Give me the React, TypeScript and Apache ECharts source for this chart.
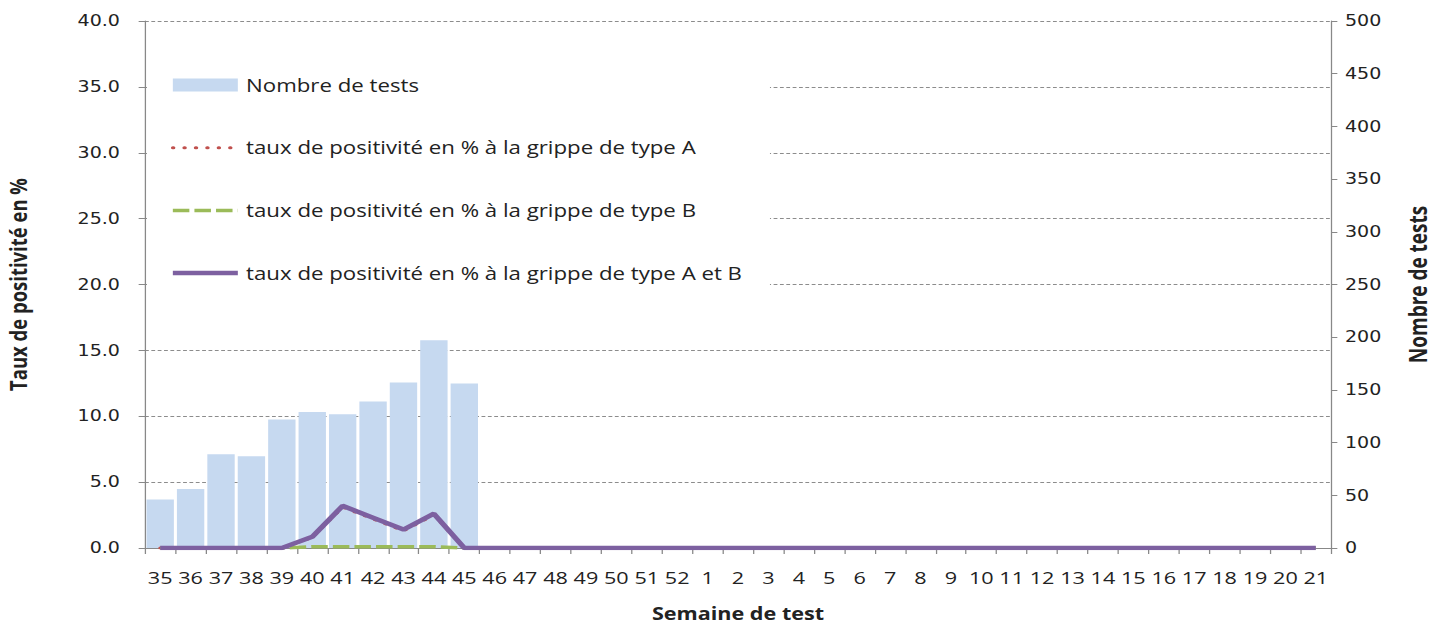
import React, { useEffect, useRef } from "react";
import * as echarts from "echarts";

const weeks = [
  "35", "36", "37", "38", "39", "40", "41", "42", "43", "44", "45", "46", "47", "48", "49", "50", "51", "52",
  "1", "2", "3", "4", "5", "6", "7", "8", "9", "10", "11", "12", "13", "14", "15", "16", "17", "18", "19", "20", "21",
];

const nombreTests = [
  46, 56, 89, 87, 122, 129, 127, 139, 157, 197, 156, null, null, null, null, null, null, null,
  null, null, null, null, null, null, null, null, null, null, null, null, null, null, null, null, null, null, null, null, null,
];

const tauxA = [
  0, 0, 0, 0, 0, 0.8, 3.1, 2.2, 1.3, 2.5, 0, 0, 0, 0, 0, 0, 0, 0,
  0, 0, 0, 0, 0, 0, 0, 0, 0, 0, 0, 0, 0, 0, 0, 0, 0, 0, 0, 0, 0,
];

const tauxB = [
  0, 0, 0, 0, 0, 0.1, 0.1, 0.1, 0.1, 0.1, 0, 0, 0, 0, 0, 0, 0, 0,
  0, 0, 0, 0, 0, 0, 0, 0, 0, 0, 0, 0, 0, 0, 0, 0, 0, 0, 0, 0, 0,
];

const tauxAB = [
  0, 0, 0, 0, 0, 0.85, 3.2, 2.3, 1.4, 2.6, 0, 0, 0, 0, 0, 0, 0, 0,
  0, 0, 0, 0, 0, 0, 0, 0, 0, 0, 0, 0, 0, 0, 0, 0, 0, 0, 0, 0, 0,
];

const FONT = "Open Sans";
const NUMFONT = "DejaVu Sans";
const W = 1435;
const H = 624;
const STRETCH = 1.27;
const CW = Math.round(W / STRETCH);
const sx = (v: number) => v / STRETCH;

const RED = "#c0504d";
const GREEN = "#9bbb59";
const PURPLE = "#7d60a0";

export default function App() {
  const ref = useRef<HTMLDivElement>(null);
  useEffect(() => {
    if (!ref.current) return;
    const chart = echarts.init(ref.current, null, { renderer: "svg" });
    const redLine = { color: RED, width: 3, type: [0.5, 8.5], cap: "round" };
    const greenLine = { color: GREEN, width: 3.5, type: [13, 4] };
    const purpleLine = { color: PURPLE, width: 4.5 };
    const leftTitleSize = 18.5;
    const rightTitleSize = 19;
    chart.setOption({
      animation: false,
      backgroundColor: "#ffffff",
      textStyle: { fontFamily: FONT },
      grid: {
        left: sx(145),
        right: sx(104),
        top: 21,
        bottom: 76,
        containLabel: false,
        outerBoundsMode: "none",
      },
      legend: {
        orient: "vertical",
        left: sx(147),
        top: 54,
        padding: [22, 22, 18, sx(170) - sx(147)],
        backgroundColor: "#ffffff",
        itemWidth: sx(65),
        itemHeight: 13,
        itemGap: 44.7,
        textStyle: { fontFamily: FONT, fontSize: 17.5, color: "#222", lineHeight: 16, padding: [0, 0, 0, 1.5] },
        data: [
          { name: "Nombre de tests", icon: "rect" },
          { name: "taux de positivité en % à la grippe de type A", itemStyle: { opacity: 0 }, lineStyle: redLine },
          { name: "taux de positivité en % à la grippe de type B", itemStyle: { opacity: 0 }, lineStyle: greenLine },
          { name: "taux de positivité en % à la grippe de type A et B", itemStyle: { opacity: 0 }, lineStyle: purpleLine },
        ],
      },
      xAxis: {
        type: "category",
        data: weeks,
        boundaryGap: true,
        name: "Semaine de test",
        nameLocation: "middle",
        nameGap: 57,
        nameTextStyle: { fontFamily: FONT, fontSize: 17, fontWeight: "bold", color: "#222" },
        axisLine: { lineStyle: { color: "#888", width: 1 } },
        axisTick: { show: true, alignWithLabel: false, length: 6, lineStyle: { color: "#888" } },
        axisLabel: { interval: 0, fontFamily: FONT, fontSize: 17, color: "#222", margin: 21 },
        splitLine: { show: false },
      },
      yAxis: [
        {
          type: "value",
          min: 0,
          max: 40,
          interval: 5,
          position: "left",
          name: "Taux de positivité en %",
          nameLocation: "middle",
          nameGap: sx(145) - sx(18) - leftTitleSize / 2,
          nameRotate: 90,
          nameTextStyle: {
            fontFamily: FONT,
            fontSize: leftTitleSize,
            lineHeight: leftTitleSize,
            fontWeight: "bold",
            color: "#222",
          },
          axisLine: { show: true, lineStyle: { color: "#888", width: 1 } },
          axisTick: { show: true, inside: false, length: 5, lineStyle: { color: "#888" } },
          axisLabel: {
            fontFamily: NUMFONT,
            fontSize: 15,
            color: "#222",
            margin: sx(25),
            formatter: (v: number) => v.toFixed(1),
          },
          splitLine: { show: true, lineStyle: { color: "#8c8c8c", type: [3, 2], width: 1 } },
        },
        {
          type: "value",
          min: 0,
          max: 500,
          interval: 50,
          position: "right",
          name: "Nombre de tests",
          nameLocation: "middle",
          nameGap: sx(1418) - sx(1331) - rightTitleSize / 2,
          nameRotate: 90,
          nameTextStyle: {
            fontFamily: FONT,
            fontSize: rightTitleSize,
            lineHeight: rightTitleSize,
            fontWeight: "bold",
            color: "#222",
          },
          axisLine: { show: true, lineStyle: { color: "#888", width: 1 } },
          axisTick: { show: true, inside: false, length: 5, lineStyle: { color: "#888" } },
          axisLabel: { fontFamily: NUMFONT, fontSize: 15, color: "#222", margin: sx(14) },
          splitLine: { show: false },
        },
      ],
      series: [
        {
          name: "Nombre de tests",
          type: "bar",
          yAxisIndex: 1,
          data: nombreTests,
          barCategoryGap: "10%",
          itemStyle: { color: "#c6d9f0" },
        },
        {
          name: "taux de positivité en % à la grippe de type A",
          type: "line",
          yAxisIndex: 0,
          data: tauxA,
          symbol: "none",
          lineStyle: redLine,
          itemStyle: { color: RED },
        },
        {
          name: "taux de positivité en % à la grippe de type B",
          type: "line",
          yAxisIndex: 0,
          data: tauxB,
          symbol: "none",
          lineStyle: greenLine,
          itemStyle: { color: GREEN },
        },
        {
          name: "taux de positivité en % à la grippe de type A et B",
          type: "line",
          yAxisIndex: 0,
          data: tauxAB,
          symbol: "none",
          lineStyle: purpleLine,
          itemStyle: { color: PURPLE },
        },
      ],
    });
    return () => chart.dispose();
  }, []);
  return (
    <div style={{ position: "fixed", left: 0, top: 0, width: W, height: H, overflow: "hidden", background: "#fff" }}>
      <div
        ref={ref}
        style={{
          width: CW,
          height: H,
          transform: `scaleX(${W / CW})`,
          transformOrigin: "0 0",
          background: "#fff",
        }}
      />
    </div>
  );
}
